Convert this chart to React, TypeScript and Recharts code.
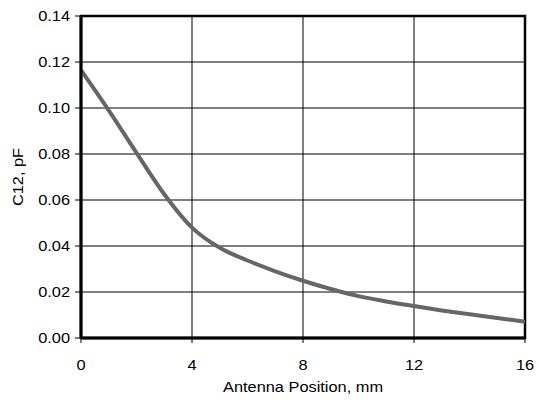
import React from "react";
import { LineChart, Line, XAxis, YAxis, CartesianGrid, ReferenceArea } from "recharts";

const positions = [0, 1, 2, 3, 4, 5, 6, 7, 8, 9, 10, 11, 12, 13, 14, 15, 16];
const c12 = [0.1165, 0.099, 0.0805, 0.0625, 0.048, 0.0392, 0.0337, 0.029, 0.0249, 0.0213, 0.0182, 0.0159, 0.0139, 0.012, 0.0103, 0.0087, 0.0071];
const xTicks = [0, 4, 8, 12, 16];
const yTicks = [0, 0.02, 0.04, 0.06, 0.08, 0.1, 0.12, 0.14];

const data = positions.map((p, i) => ({ pos: p, c: c12[i] }));

const FONT = "'Liberation Sans', Arial, sans-serif";
const SX = 1.17;

const YTick = (props: any) => {
  const { x, y, payload } = props;
  return (
    <text
      transform={`translate(${x},${y + 5}) scale(${SX},1)`}
      textAnchor="end"
      fontFamily={FONT}
      fontSize={14}
      fill="#000"
    >
      {Number(payload.value).toFixed(2)}
    </text>
  );
};

const XTick = (props: any) => {
  const { x, y, payload } = props;
  return (
    <text
      transform={`translate(${x},${y + 25}) scale(${SX},1)`}
      textAnchor="middle"
      fontFamily={FONT}
      fontSize={14}
      fill="#000"
    >
      {String(payload.value)}
    </text>
  );
};

export default function App() {
  return (
    <div style={{ position: "absolute", left: 0, top: 0, width: 539, height: 406, background: "#fff" }}>
      <LineChart
        width={539}
        height={406}
        data={data}
        margin={{ top: 16, right: 14, bottom: 0, left: 0 }}
      >
        <CartesianGrid stroke="#000" strokeWidth={1} horizontal={true} vertical={true} />
        <XAxis
          dataKey="pos"
          type="number"
          domain={[0, 16]}
          ticks={xTicks}
          height={68}
          tickSize={5}
          tickMargin={2}
          tick={<XTick />}
          axisLine={{ stroke: "#000", strokeWidth: 3 }}
          tickLine={{ stroke: "#000", strokeWidth: 1 }}
          label={{
            content: () => (
              <text
                transform={`translate(303,392) scale(${SX},1)`}
                textAnchor="middle"
                fontFamily={FONT}
                fontSize={14}
                fill="#000"
              >
                Antenna Position, mm
              </text>
            ),
          }}
        />
        <YAxis
          type="number"
          domain={[0, 0.14]}
          ticks={yTicks}
          width={81}
          tickSize={6}
          tickMargin={5}
          tick={<YTick />}
          axisLine={{ stroke: "#000", strokeWidth: 3 }}
          tickLine={{ stroke: "#000", strokeWidth: 1 }}
          label={{
            content: () => (
              <text
                transform={`translate(23,177) rotate(-90) scale(${SX},1)`}
                textAnchor="middle"
                fontFamily={FONT}
                fontSize={14}
                fill="#000"
              >
                C12, pF
              </text>
            ),
          }}
        />
        <ReferenceArea x1={0} x2={16} y1={0} y2={0.14} fill="none" stroke="#000" strokeWidth={2.5} />
        <Line
          dataKey="c"
          type="monotone"
          stroke="#666666"
          strokeWidth={4}
          dot={false}
          isAnimationActive={false}
        />
      </LineChart>
    </div>
  );
}
